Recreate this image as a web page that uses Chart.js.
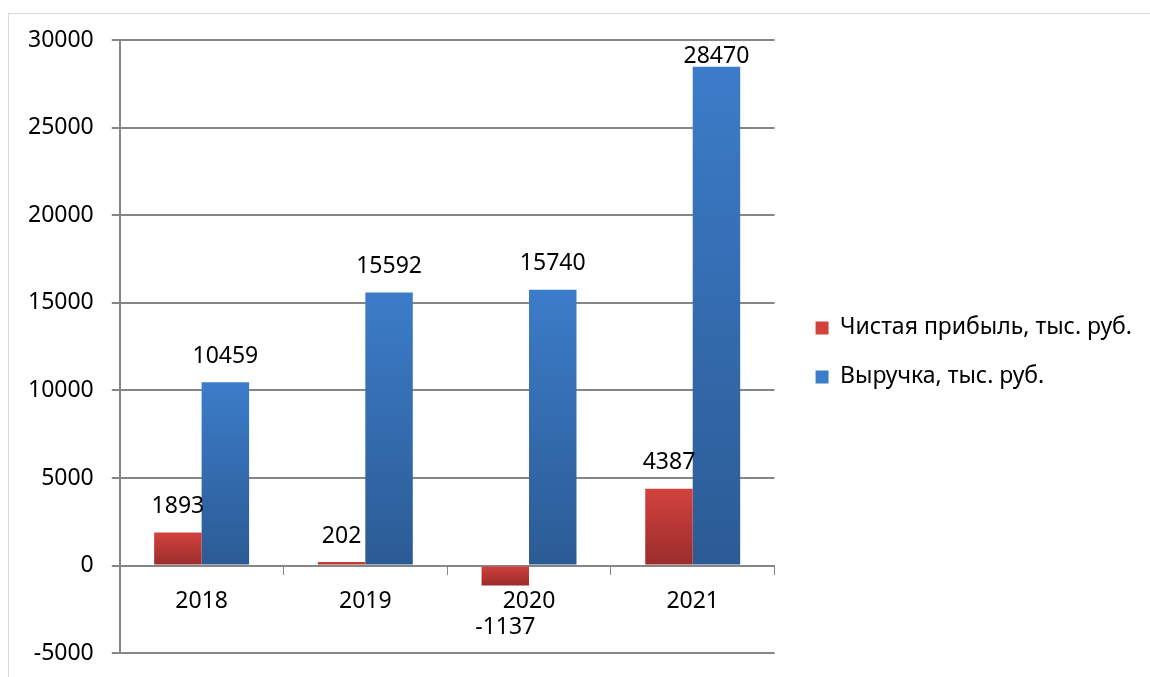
<!DOCTYPE html>
<html lang="ru">
<head>
<meta charset="UTF-8">
<title>Выручка и чистая прибыль</title>
<script src="https://cdn.jsdelivr.net/npm/chart.js@4.4.0/dist/chart.umd.min.js"></script>
<style>
  html, body { margin: 0; padding: 0; background: #fff; overflow: hidden; }
  #frame {
    position: absolute; left: 8px; top: 13px; width: 1300px; height: 800px;
    border-top: 1px solid #d9d9d9; border-left: 1px solid #d9d9d9;
  }
  #wrap { position: absolute; left: 0; top: 0; width: 1150px; height: 685px; }
</style>
</head>
<body>
<div id="frame"></div>
<div id="wrap"><canvas id="chart"></canvas></div>
<script>
// Data
const years = ['2018', '2019', '2020', '2021'];
const profit = [1893, 202, -1137, 4387];      // Чистая прибыль, тыс. руб.
const revenue = [10459, 15592, 15740, 28470]; // Выручка, тыс. руб.
const yTicks = [-5000, 0, 5000, 10000, 15000, 20000, 25000, 30000];

const FONT = 'Noto Sans';
const FONT_SIZE = 23;

// vertical gradient across each bar's own height (lighter at top)
function gradient(topColor, bottomColor, midColor) {
  return ctx => {
    const chart = ctx.chart;
    if (!chart.chartArea || ctx.type !== 'data') return midColor;
    const y = chart.scales.y;
    const v = ctx.raw;
    const y1 = y.getPixelForValue(Math.max(v, 0));
    const y2 = y.getPixelForValue(Math.min(v, 0));
    if (!isFinite(y1) || !isFinite(y2) || y1 === y2) return midColor;
    const g = chart.ctx.createLinearGradient(0, y1, 0, y2);
    g.addColorStop(0, topColor);
    g.addColorStop(1, bottomColor);
    return g;
  };
}

// value labels above positive bars, below negative ones
const valueLabels = {
  id: 'valueLabels',
  afterDatasetsDraw(chart) {
    const c = chart.ctx;
    const area = chart.chartArea;
    c.save();
    c.font = FONT_SIZE + 'px "' + FONT + '"';
    c.fillStyle = '#000';
    c.textAlign = 'center';
    c.textBaseline = 'middle';
    chart.data.datasets.forEach((ds, i) => {
      chart.getDatasetMeta(i).data.forEach((bar, j) => {
        const v = ds.data[j];
        let y;
        if (v >= 0) y = Math.max(bar.y - 26, area.top + 16);
        else y = bar.y + 42;
        c.fillText(String(v), bar.x, y);
      });
    });
    c.restore();
  }
};

Chart.defaults.font.family = FONT;
Chart.defaults.font.size = FONT_SIZE;
Chart.defaults.color = '#000';

new Chart(document.getElementById('chart'), {
  type: 'bar',
  data: {
    labels: years,
    datasets: [
      {
        label: 'Чистая прибыль, тыс. руб.',
        data: profit,
        backgroundColor: gradient('#d2423d', '#9a2c2c', '#be3a36'),
        borderWidth: 0
      },
      {
        label: 'Выручка, тыс. руб.',
        data: revenue,
        backgroundColor: gradient('#3c7cc9', '#2b5b94', '#346cb0'),
        borderWidth: 0
      }
    ]
  },
  options: {
    responsive: true,
    maintainAspectRatio: false,
    animation: false,
    layout: { padding: { left: 10, right: 8, top: 40, bottom: 0 } },
    datasets: {
      bar: { categoryPercentage: 0.58, barPercentage: 1 }
    },
    plugins: {
      legend: {
        position: 'right',
        align: 'start',
        maxWidth: 420,
        // empty title only pushes the items down to the middle of the plot
        title: {
          display: true,
          text: ' ',
          font: { size: 12 },
          padding: { top: 236, bottom: 0 }
        },
        labels: {
          boxWidth: 13,
          boxHeight: 13,
          padding: 26,
          font: { size: FONT_SIZE }
        }
      },
      tooltip: { enabled: false }
    },
    scales: {
      x: {
        position: { y: 0 },
        grid: {
          drawOnChartArea: false,
          drawTicks: true,
          tickLength: 8,
          color: '#868686',
          offset: true
        },
        border: { color: '#868686', width: 2 },
        ticks: { padding: 14, font: { size: FONT_SIZE } }
      },
      y: {
        min: yTicks[0],
        max: yTicks[yTicks.length - 1],
        afterBuildTicks(scale) {
          scale.ticks = yTicks.map(v => ({ value: v }));
        },
        grid: { color: '#868686', lineWidth: 2, tickLength: 8 },
        border: { color: '#868686', width: 2 },
        ticks: {
          padding: 18,
          font: { size: FONT_SIZE },
          callback: v => String(v)
        }
      },
      gap: {
        type: 'linear',
        position: 'right',
        display: true,
        grid: { display: false },
        border: { display: false },
        ticks: { display: false },
        afterFit(scale) { scale.width = 15; }
      }
    }
  },
  plugins: [valueLabels]
});
</script>
</body>
</html>
